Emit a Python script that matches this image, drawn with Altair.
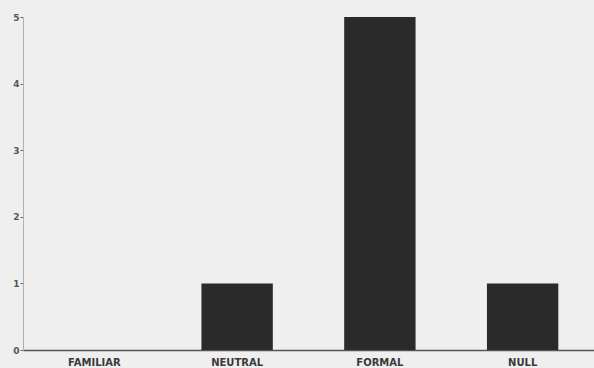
import altair as alt
import pandas as pd

categories = ["FAMILIAR", "NEUTRAL", "FORMAL", "NULL"]
counts = [0, 1, 5, 1]

df = pd.DataFrame({"cat": categories, "n": counts})

chart = alt.Chart(df).mark_bar(color="#2a2a2a").encode(
    x=alt.X("cat:N", sort=categories,
            scale=alt.Scale(paddingInner=0.5, paddingOuter=0.25),
            axis=alt.Axis(title=None, labelAngle=0, ticks=False, domainColor="#555555",
                          domainWidth=1.5, labelFont="DejaVu Sans", labelFontWeight="bold",
                          labelFontSize=10, labelColor="#3a3a3a", labelPadding=7)),
    y=alt.Y("n:Q", scale=alt.Scale(domain=[0, 5], nice=False),
            axis=alt.Axis(title=None, values=[0, 1, 2, 3, 4, 5], format="d", grid=False,
                          domainColor="#b0b0b0", tickColor="#666666", tickSize=3,
                          labelPadding=1, labelFont="DejaVu Sans", labelFontWeight="bold",
                          labelFontSize=9, labelColor="#555555")),
).properties(
    width=571, height=333,
    autosize=alt.AutoSizeParams(type="none"),
    padding={"left": 23, "top": 17, "right": 0, "bottom": 18},
    background="#efefef",
).configure_view(stroke=None)

chart.save("out.html", embed_options={"renderer": "svg", "actions": False})
